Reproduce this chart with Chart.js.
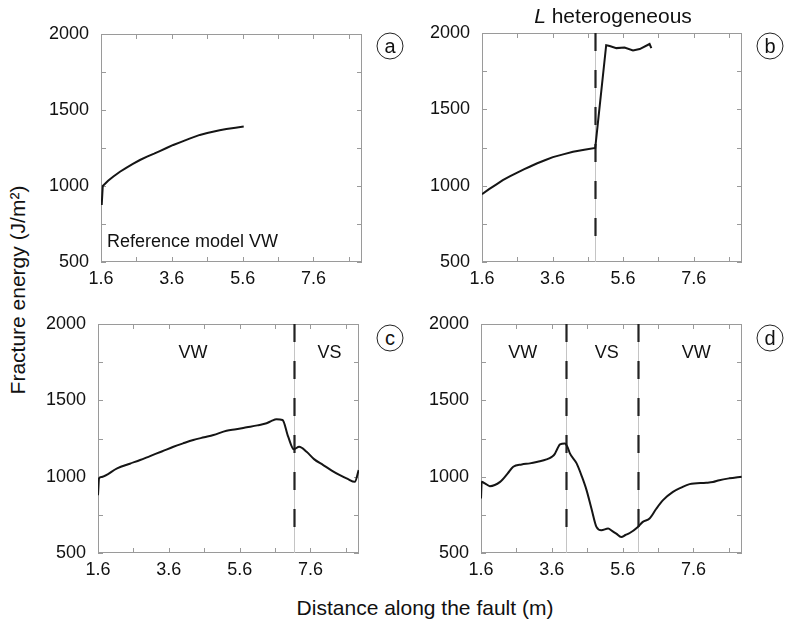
<!DOCTYPE html>
<html>
<head>
<meta charset="utf-8">
<script src="https://cdn.jsdelivr.net/npm/chart.js@4.4.1/dist/chart.umd.min.js"></script>
<style>
  html, body { margin: 0; padding: 0; background: #fff; }
  #wrap { position: relative; width: 785px; height: 624px; overflow: hidden;
          font-family: "Liberation Sans", Arial, sans-serif; color: #111; }
  #wrap canvas { position: absolute; }
  .txt { position: absolute; white-space: nowrap; transform: translate(-50%, -50%); }
  .circ { position: absolute; width: 25px; height: 25px; border: 1px solid #222; border-radius: 50%;
          transform: translate(-50%, -50%); text-align: center; line-height: 24px; font-size: 20px; }
</style>
</head>
<body>
<div id="wrap">
  <canvas id="pa"></canvas>
  <canvas id="pb"></canvas>
  <canvas id="pc"></canvas>
  <canvas id="pd"></canvas>
  <div class="txt" style="left:613px;top:16px;font-size:21px;"><i>L</i> heterogeneous</div>
  <div class="txt" style="left:18px;top:290px;font-size:21px;transform:translate(-50%,-50%) rotate(-90deg);">Fracture energy (J/m²)</div>
  <div class="txt" style="left:425px;top:608px;font-size:21px;">Distance along the fault (m)</div>
  <div class="circ" style="left:390px;top:46px;">a</div>
  <div class="circ" style="left:770px;top:46px;">b</div>
  <div class="circ" style="left:390px;top:338px;">c</div>
  <div class="circ" style="left:770px;top:338px;">d</div>
</div>
<script>
/* ---------- axis ticks ---------- */
const xMajor = [1.6, 3.6, 5.6, 7.6];
const xMinor = [2.6, 4.6, 6.6, 8.6];
const yMajor = [500, 1000, 1500, 2000];
const yMinor = [750, 1250, 1750];
const xMin = 1.6, xMax = 8.97;
const yMin = 500, yMax = 2000;

/* ---------- (a) reference model VW ---------- */
const aX = [1.62, 1.65, 1.8, 1.95, 2.135, 2.3, 2.5, 2.7, 2.9, 3.1, 3.26, 3.45, 3.64, 3.85, 4.1, 4.39, 4.6, 4.76, 4.95, 5.14, 5.4, 5.63];
const aY = [875, 1000, 1035, 1062, 1094, 1118, 1145, 1171, 1193, 1213, 1230, 1250, 1270, 1289, 1312, 1336, 1349, 1357, 1367, 1375, 1383, 1391];

/* ---------- (b) L heterogeneous ---------- */
const bX = [1.6, 1.8, 2.0, 2.19, 2.4, 2.6, 2.8, 2.95, 3.15, 3.4, 3.61, 3.9, 4.18, 4.5, 4.81, 5.12, 5.22, 5.41, 5.64, 5.88, 6.07, 6.35, 6.4];
const bY = [944, 977, 1007, 1036, 1062, 1086, 1108, 1124, 1145, 1168, 1187, 1205, 1222, 1235, 1247, 1920, 1915, 1901, 1905, 1885, 1895, 1928, 1901];
const bDividers = [4.81];

/* ---------- (c) VW | VS ---------- */
const cX = [1.6, 1.63, 1.7, 2.14, 2.5, 2.79, 3.07, 3.4, 3.73, 4.0, 4.29, 4.6, 4.86, 5.23, 5.5, 5.8, 6.1, 6.36, 6.5, 6.64, 6.81, 6.97, 7.13, 7.28, 7.49, 7.7, 7.96, 8.2, 8.43, 8.65, 8.85, 8.96];
const cY = [879, 989, 998, 1054, 1085, 1109, 1135, 1165, 1196, 1218, 1240, 1258, 1273, 1301, 1310, 1323, 1336, 1350, 1365, 1376, 1371, 1262, 1179, 1196, 1163, 1115, 1076, 1040, 1010, 985, 966, 1043];
const cDividers = [7.13];
const cRegionX = [4.28, 8.14];
const cRegionText = ["VW", "VS"];

/* ---------- (d) VW | VS | VW ---------- */
const dX = [1.6, 1.62, 1.71, 1.85, 2.14, 2.35, 2.51, 2.75, 2.98, 3.2, 3.45, 3.6, 3.68, 3.76, 3.83, 3.97, 4.05, 4.11, 4.3, 4.45, 4.58, 4.72, 4.86, 5.0, 5.19, 5.3, 5.42, 5.56, 5.68, 5.8, 6.03, 6.17, 6.36, 6.55, 6.74, 7.02, 7.25, 7.49, 7.96, 8.15, 8.33, 8.61, 8.96];
const dY = [857, 966, 956, 938, 966, 1020, 1065, 1080, 1087, 1098, 1113, 1130, 1148, 1185, 1212, 1218, 1190, 1153, 1087, 1000, 912, 790, 671, 649, 660, 645, 627, 605, 618, 631, 671, 704, 726, 790, 846, 900, 928, 951, 960, 965, 977, 989, 1000];
const dDividers = [3.99, 6.04];
const dRegionX = [2.78, 5.15, 7.68];
const dRegionText = ["VW", "VS", "VW"];

const FONT = '"Liberation Sans", Arial, sans-serif';

/* frame, inner ticks, dashed boundaries and in-plot labels */
const framePlugin = {
    id: "frame",
    beforeDatasetsDraw(chart, args, opts) {
        const { ctx, chartArea: a, scales: { x, y } } = chart;
        ctx.save();
        ctx.strokeStyle = "#9a9a9a";
        ctx.lineWidth = 1;
        ctx.strokeRect(a.left + 0.5, a.top + 0.5, a.right - a.left - 1, a.bottom - a.top - 1);

        ctx.beginPath();
        x.ticks.forEach(t => {
            const px = Math.round(x.getPixelForValue(t.value)) + 0.5;
            ctx.moveTo(px, a.bottom); ctx.lineTo(px, a.bottom - 5);
            ctx.moveTo(px, a.top); ctx.lineTo(px, a.top + 5);
        });
        y.ticks.forEach(t => {
            const py = Math.round(y.getPixelForValue(t.value)) + 0.5;
            ctx.moveTo(a.left, py); ctx.lineTo(a.left + 5, py);
            ctx.moveTo(a.right, py); ctx.lineTo(a.right - 5, py);
        });
        ctx.stroke();

        (opts.dividers || []).forEach(v => {
            const px = Math.round(x.getPixelForValue(v)) + 0.5;
            ctx.strokeStyle = "#c4c4c4";
            ctx.lineWidth = 1;
            ctx.setLineDash([]);
            ctx.beginPath();
            ctx.moveTo(px, a.top); ctx.lineTo(px, a.bottom);
            ctx.stroke();
            ctx.strokeStyle = "#222";
            ctx.lineWidth = 2.2;
            ctx.setLineDash([18, 19]);
            ctx.beginPath();
            ctx.moveTo(px, a.top); ctx.lineTo(px, y.getPixelForValue(opts.stop));
            ctx.stroke();
        });
        ctx.restore();
    },
    afterDatasetsDraw(chart, args, opts) {
        const { ctx, scales: { x, y } } = chart;
        ctx.save();
        ctx.fillStyle = "#111";
        ctx.font = "18px " + FONT;
        ctx.textBaseline = "middle";
        (opts.regionX || []).forEach((v, i) => {
            ctx.textAlign = opts.align || "center";
            ctx.fillText(opts.regionText[i], x.getPixelForValue(v), y.getPixelForValue(opts.regionY));
        });
        ctx.restore();
    }
};

function noPad(s) {
    s.paddingTop = 0; s.paddingBottom = 0;
    s.paddingLeft = 0; s.paddingRight = 0;
}

function makePanel(id, box, xs, ys, extra, smooth) {
    const canvas = document.getElementById(id);
    const padL = 60, padT = 12, padR = 15, padB = 35;
    canvas.width = box.w + padL + padR;
    canvas.height = box.h + padT + padB;
    canvas.style.left = (box.left - padL) + "px";
    canvas.style.top = (box.top - padT) + "px";

    const points = xs.map((v, i) => ({ x: v, y: ys[i] }));

    new Chart(canvas, {
        type: "line",
        data: {
            datasets: [{
                data: points,
                borderColor: "#151515",
                borderWidth: 2,
                pointRadius: 0,
                tension: 0,
                cubicInterpolationMode: smooth ? "monotone" : "default",
                fill: false
            }]
        },
        options: {
            responsive: false,
            animation: false,
            events: [],
            layout: { padding: { top: padT, right: padR, left: 0, bottom: 0 } },
            plugins: {
                legend: { display: false },
                tooltip: { enabled: false },
                frame: extra
            },
            scales: {
                x: {
                    type: "linear",
                    min: xMin, max: xMax,
                    grid: { display: false, drawTicks: false },
                    border: { display: false },
                    afterBuildTicks: s => {
                        s.ticks = xMajor.concat(xMinor).sort((p, q) => p - q).map(v => ({ value: v }));
                    },
                    afterFit: s => { s.height = padB; noPad(s); },
                    ticks: {
                        autoSkip: false, maxRotation: 0, padding: 6,
                        color: "#111",
                        font: { family: FONT, size: 18 },
                        callback: v => xMajor.includes(v) ? v.toFixed(1) : ""
                    }
                },
                y: {
                    type: "linear",
                    min: yMin, max: yMax,
                    grid: { display: false, drawTicks: false },
                    border: { display: false },
                    afterBuildTicks: s => {
                        s.ticks = yMajor.concat(yMinor).sort((p, q) => p - q).map(v => ({ value: v }));
                    },
                    afterFit: s => { s.width = padL; noPad(s); },
                    ticks: {
                        autoSkip: false, padding: 12,
                        color: "#111",
                        font: { family: FONT, size: 18 },
                        callback: v => yMajor.includes(v) ? String(v) : ""
                    }
                }
            }
        },
        plugins: [framePlugin]
    });
}

makePanel("pa", { left: 101, top: 34, w: 261, h: 228 }, aX, aY,
    { regionX: [1.77], regionText: ["Reference model VW"], regionY: 632, align: "left" }, false);
makePanel("pb", { left: 482, top: 33, w: 260, h: 229 }, bX, bY,
    { dividers: bDividers, stop: 600 }, false);
makePanel("pc", { left: 98, top: 324, w: 261, h: 229 }, cX, cY,
    { dividers: cDividers, stop: 590, regionX: cRegionX, regionText: cRegionText, regionY: 1810 }, true);
makePanel("pd", { left: 481, top: 324, w: 261, h: 229 }, dX, dY,
    { dividers: dDividers, stop: 600, regionX: dRegionX, regionText: dRegionText, regionY: 1810 }, true);
</script>
</body>
</html>
